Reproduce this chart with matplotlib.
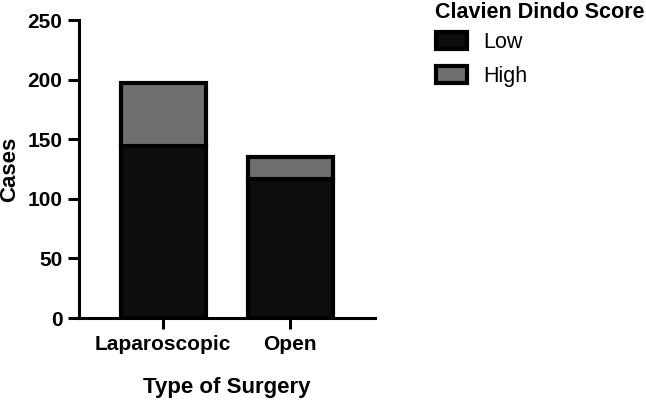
import numpy as np
import matplotlib.pyplot as plt

plt.rcParams['font.family'] = ['Liberation Sans', 'DejaVu Sans']

# Data
surgery = ['Laparoscopic', 'Open']
low = [144, 117]
high = [53, 18]

LOW_COLOR = '#0d0d0d'
HIGH_COLOR = '#6f6f6f'

fig = plt.figure(figsize=(6.46, 4.0), dpi=100)
ax = fig.add_axes([79 / 646, 82 / 400, 296 / 646, 298 / 400])

x = np.arange(len(surgery))
ax.bar(x, low, width=0.67, color=LOW_COLOR, edgecolor='black', linewidth=3, label='Low')
ax.bar(x, high, width=0.67, bottom=low, color=HIGH_COLOR, edgecolor='black', linewidth=3, label='High')

ax.set_xlim(-0.665, 1.67)
ax.set_ylim(0, 250)
ax.set_yticks([0, 50, 100, 150, 200, 250])
ax.set_xticks(x)
ax.set_xticklabels(surgery)

for s in ['top', 'right']:
    ax.spines[s].set_visible(False)
for s in ['left', 'bottom']:
    ax.spines[s].set_linewidth(2.2)

ax.tick_params(axis='both', width=2.2, length=8, labelsize=15, pad=4)
for lbl in ax.get_xticklabels() + ax.get_yticklabels():
    lbl.set_fontweight('bold')

ax.set_xlabel('Type of Surgery', fontsize=16, fontweight='bold', labelpad=17)
ax.set_ylabel('Cases', fontsize=16, fontweight='bold', labelpad=5)

# legend title drawn separately so the rows can sit closer to it
fig.text(435 / 646, 1 - 2 / 400, 'Clavien Dindo Score', fontsize=15.5, fontweight='bold',
         ha='left', va='top')
leg = fig.legend(loc='upper left', bbox_to_anchor=(434 / 646, 1 - 30 / 400), frameon=False,
                 fontsize=15.5, handlelength=1.45, handleheight=0.8, handletextpad=0.75,
                 labelspacing=0.6, borderpad=0.1, borderaxespad=0)
for h in leg.legend_handles:
    h.set_linewidth(3)

fig.savefig('out.png', dpi=100)
